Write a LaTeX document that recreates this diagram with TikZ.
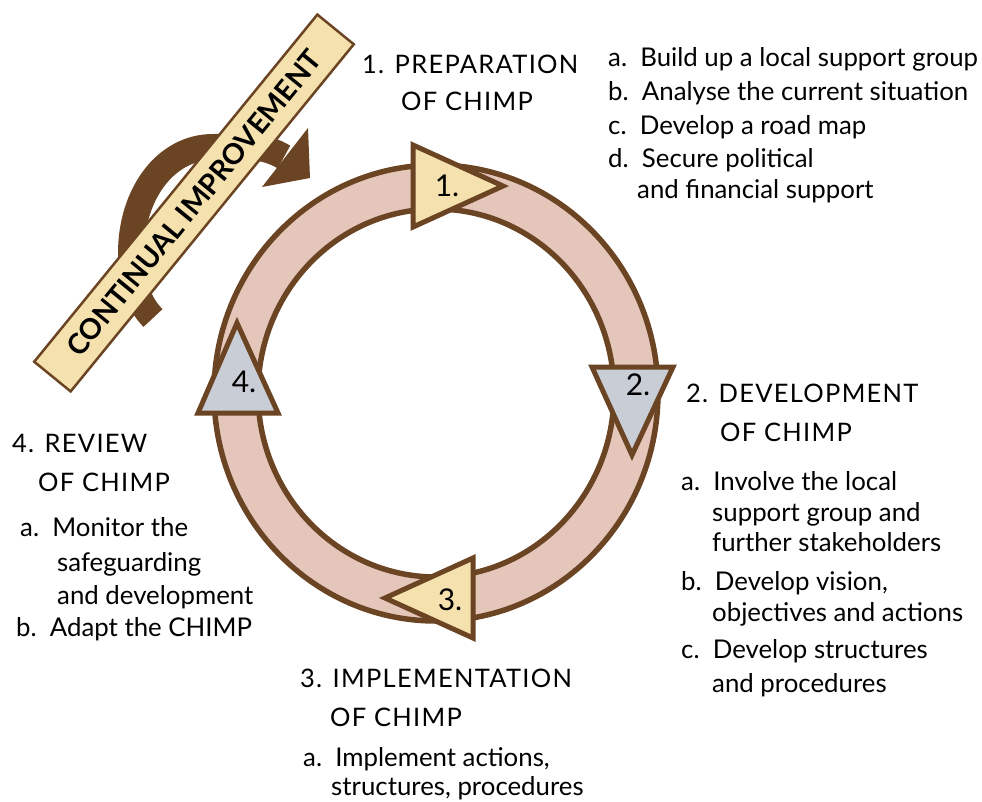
\documentclass[tikz,border=0pt]{standalone}
\usepackage{fontspec}
\setmainfont{Lato}
\definecolor{brn}{HTML}{6B4423}
\definecolor{ringpink}{HTML}{E5C6BA}
\definecolor{tyellow}{HTML}{F5E1AE}
\definecolor{tgray}{HTML}{C8CDD6}
\begin{document}
\begin{tikzpicture}[x=1pt,y=-1pt,
  txt/.style={anchor=base west,inner sep=0pt,font=\fontsize{25.8}{30}\selectfont},
  head/.style={anchor=base west,inner sep=0pt,font=\fontsize{25.5}{30}\selectfont\addfontfeature{LetterSpace=5}},
  trinum/.style={inner sep=0pt,font=\fontsize{30}{32}\selectfont},
  tri/.style={draw=brn,line width=5pt,line join=miter}]
\useasboundingbox (0,0) rectangle (982,801);
% continual improvement arrow
\draw[brn,line width=26pt] (153,318) .. controls (138,303) and (131,280) .. (131,253)
  .. controls (131,195) and (165,147) .. (213,147)
  .. controls (243,147) and (262,144) .. (284,157);
\fill[brn] (308,128) -- (310,178) -- (262,187) -- cycle;
\node[draw=brn,fill=tyellow,line width=2.5pt,rotate=50.8,minimum width=448pt,minimum height=47pt,inner sep=0pt,
  font=\fontsize{28.5}{30}\selectfont\bfseries] (banner) at (194,203) {CONTINUAL IMPROVEMENT};
% ring
\draw[brn,line width=5.5pt,fill=ringpink,even odd rule]
  (436,393) ellipse [x radius=222pt,y radius=228pt]
  (436,393) ellipse [x radius=178pt,y radius=184pt];
% triangles
\draw[tri,fill=tyellow] (413,145) -- (503,186) -- (413,227) -- cycle;
\node[trinum] (n1) at (447,186) {1.};
\draw[tri,fill=tgray] (592,367) -- (673,367) -- (632,455) -- cycle;
\node[trinum] (n2) at (638,385) {2.};
\draw[tri,fill=tgray] (237,323) -- (278,413) -- (198,413) -- cycle;
\node[trinum] (n4) at (244,382) {4.};
\draw[tri,fill=tyellow] (473,558) -- (473,638) -- (385,598) -- cycle;
\node[trinum] (n3) at (450,600) {3.};
% text 1
\node[head] (h1a) at (362,73) {1. PREPARATION};
\node[head] (h1b) at (401,110) {OF CHIMP};
\node[txt] (l1a) at (608,66) {a.\ \ Build up a local support group};
\node[txt] (l1b) at (608,100) {b.\ \ Analyse the current situation};
\node[txt] (l1c) at (608,134) {c.\ \ Develop a road map};
\node[txt] (l1d) at (608,167) {d.\ \ Secure political};
\node[txt] (l1e) at (637,198) {and financial support};
% text 2
\node[head] (h2a) at (686,402) {2. DEVELOPMENT};
\node[head] (h2b) at (720,441) {OF CHIMP};
\node[txt] (l2a) at (681,490) {a.\ \ Involve the local};
\node[txt] (l2b) at (712,521) {support group and};
\node[txt] (l2c) at (712,551) {further stakeholders};
\node[txt] (l2d) at (681,590) {b.\ \ Develop vision,};
\node[txt] (l2e) at (712,621) {objectives and actions};
\node[txt] (l2f) at (681,658) {c.\ \ Develop structures};
\node[txt] (l2g) at (712,692) {and procedures};
% text 3
\node[head] (h3a) at (300,687) {3. IMPLEMENTATION};
\node[head] (h3b) at (330,726) {OF CHIMP};
\node[txt] (l3a) at (303,766) {a.\ \ Implement actions,};
\node[txt] (l3b) at (331,795) {structures, procedures};
% text 4
\node[head] (h4a) at (12,452) {4. REVIEW};
\node[head] (h4b) at (38,491) {OF CHIMP};
\node[txt] (l4a) at (20,536) {a.\ \ Monitor the};
\node[txt] (l4b) at (57,571) {safeguarding};
\node[txt] (l4c) at (57,604) {and development};
\node[txt] (l4d) at (16,636) {b.\ \ Adapt the CHIMP};
\end{tikzpicture}
\end{document}
